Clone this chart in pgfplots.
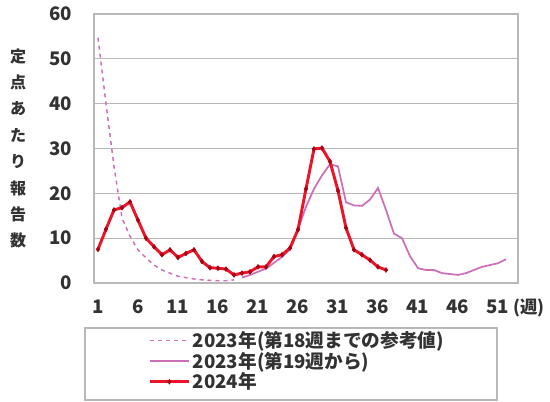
\documentclass[border=0pt]{standalone}
\usepackage{pgfplots}
\pgfplotsset{compat=1.18}
\usepackage{fontspec}
\setmainfont{Noto Sans CJK JP}
\definecolor{redline}{RGB}{235,20,40}
\definecolor{redmark}{RGB}{170,0,20}
\definecolor{pinkline}{RGB}{205,110,185}
\definecolor{gridgray}{RGB}{185,185,185}
\definecolor{txt}{RGB}{50,50,50}
\begin{document}
\begin{tikzpicture}
\path (0,0) rectangle (412.5pt,301.5pt);
\draw[gridgray, line width=0.8pt] (63.75pt,1.5pt) rectangle (372.75pt,55.5pt);
\begin{axis}[
  at={(70.5pt,89.25pt)}, anchor=south west,
  scale only axis, width=318pt, height=201.75pt,
  xmin=0.5, xmax=53.5, ymin=0, ymax=60,
  xtick={1,6,11,16,21,26,31,36,41,46,51},
  ytick={0,10,20,30,40,50,60},
  major tick length=0pt,
  ymajorgrids, grid style={gridgray, line width=0.9pt},
  axis line style={gridgray, line width=0.9pt},
  tick label style={font=\fontsize{14}{16}\selectfont\bfseries, text=txt},
  /pgf/number format/assume math mode=true,
  xticklabel style={yshift=-9pt},
  yticklabel style={xshift=-13pt},
  ylabel={定\\点\\あ\\た\\り\\報\\告\\数},
  ylabel style={at={(rel axis cs:-0.179,0.50)}, anchor=center, rotate=-90, align=center,
    font=\fontsize{12}{19.8}\selectfont\bfseries, text=txt},
  clip=false,
  legend image code/.code={\draw[mark repeat=2,mark phase=2,#1] plot coordinates {(0pt,0pt) (14.5pt,0pt) (29pt,0pt)};},
  legend style={draw=none, fill=none, at={(rel axis cs:0.125,-0.165)}, anchor=north west,
    font=\fontsize{14}{15}\selectfont\bfseries, text=txt, row sep=-2.2pt, inner sep=1pt,
    cells={anchor=west}},
]
\addplot[pinkline, dashed, line width=1.1pt, no marks] coordinates {
(1,54.7)(2,40)(3,26)(4,14.5)(5,10.4)(6,7.4)(7,5.6)(8,4.0)(9,2.9)(10,2.2)
(11,1.5)(12,1.2)(13,0.9)(14,0.7)(15,0.6)(16,0.5)(17,0.5)(18,0.7)};
\addlegendentry{2023年(第18週までの参考値)}
\addplot[color=pinkline, line width=1.3pt, no marks] coordinates {
(19,1.2)(20,1.8)(21,2.5)(22,3.2)(23,4.5)(24,5.8)(25,7.5)(26,12)(27,17)(28,21)
(29,24)(30,26.5)(31,26)(32,18)(33,17.3)(34,17.2)(35,18.6)(36,21.2)(37,16.3)(38,11)
(39,10)(40,6)(41,3.3)(42,2.9)(43,2.9)(44,2.2)(45,2.0)(46,1.8)(47,2.2)(48,2.9)
(49,3.6)(50,4.0)(51,4.4)(52,5.3)};
\addlegendentry{2023年(第19週から)}
\addplot[redline, line width=2.2pt, mark=diamond*, mark size=1.8pt,
  mark options={redmark, line width=0.4pt}] coordinates {
(1,7.5)(2,12)(3,16.3)(4,16.8)(5,18.1)(6,14)(7,10)(8,8.1)(9,6.3)(10,7.4)
(11,5.7)(12,6.6)(13,7.4)(14,4.8)(15,3.4)(16,3.3)(17,3.1)(18,1.8)(19,2.2)(20,2.5)
(21,3.6)(22,3.6)(23,5.9)(24,6.3)(25,7.8)(26,11.9)(27,21)(28,29.9)(29,30.1)(30,27.1)
(31,20.6)(32,12.3)(33,7.4)(34,6.3)(35,5.1)(36,3.6)(37,2.9)};
\addlegendentry{2024年}
\node[font=\fontsize{13}{15}\selectfont\bfseries, text=txt, anchor=east, inner sep=1pt] at (rel axis cs:1.066,0) [yshift=-19pt] {(週)};
\end{axis}
\end{tikzpicture}
\end{document}
